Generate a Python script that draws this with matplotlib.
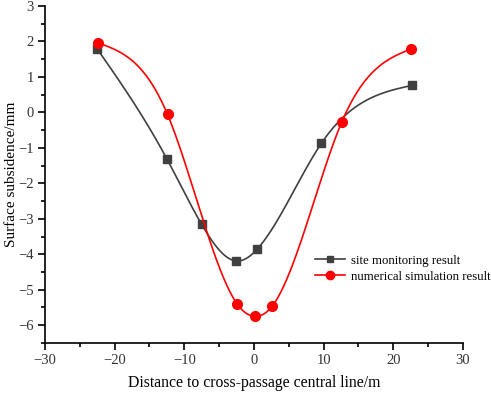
import numpy as np
import matplotlib
matplotlib.use("Agg")
from matplotlib import pyplot as plt
from matplotlib.ticker import MultipleLocator

plt.rcParams['font.family'] = ['Liberation Serif', 'DejaVu Serif']
plt.rcParams['axes.unicode_minus'] = True

# data
site_x = [-22.5, -12.5, -7.5, -2.5, 0.5, 9.7, 22.7]
site_y = [1.79, -1.31, -3.16, -4.19, -3.85, -0.87, 0.76]
sim_x = [-22.4, -12.4, -2.45, 0.1, 2.6, 12.6, 22.6]
sim_y = [1.96, -0.06, -5.39, -5.75, -5.47, -0.28, 1.79]


def spline(x, y, n=300):
    # natural cubic spline used only as the connecting line style
    x = np.asarray(x, float)
    y = np.asarray(y, float)
    k = len(x)
    h = np.diff(x)
    A = np.zeros((k, k))
    b = np.zeros(k)
    A[0, 0] = A[-1, -1] = 1
    for i in range(1, k - 1):
        A[i, i - 1] = h[i - 1]
        A[i, i] = 2 * (h[i - 1] + h[i])
        A[i, i + 1] = h[i]
        b[i] = 3 * ((y[i + 1] - y[i]) / h[i] - (y[i] - y[i - 1]) / h[i - 1])
    c = np.linalg.solve(A, b)
    xs = np.linspace(x[0], x[-1], n)
    idx = np.clip(np.searchsorted(x, xs) - 1, 0, k - 2)
    dx = xs - x[idx]
    bb = (y[idx + 1] - y[idx]) / h[idx] - h[idx] * (2 * c[idx] + c[idx + 1]) / 3
    d = (c[idx + 1] - c[idx]) / (3 * h[idx])
    ys = y[idx] + bb * dx + c[idx] * dx ** 2 + d * dx ** 3
    return xs, ys


fig = plt.figure(figsize=(4.91, 3.96), dpi=100)
ax = fig.add_axes([0.0916, 0.134, 0.851, 0.851])

gray = "#404040"
red = "#ff0000"

sx, sy = spline(site_x, site_y)
ax.plot(sx, sy, color=gray, lw=1.2)
ax.plot(site_x, site_y, "s", color=gray, ms=6)
rx, ry = spline(sim_x, sim_y)
ax.plot(rx, ry, color=red, lw=1.2)
ax.plot(sim_x, sim_y, "o", color=red, ms=7)

# legend proxies
ax.plot([], [], "s-", color=gray, ms=5, lw=1.2, label="site monitoring result")
ax.plot([], [], "o-", color=red, ms=6, lw=1.2, label="numerical simulation result")

ax.set_xlim(-30, 30)
ax.set_ylim(-6.5, 3)
ax.xaxis.set_major_locator(MultipleLocator(10))
ax.xaxis.set_minor_locator(MultipleLocator(5))
ax.yaxis.set_major_locator(MultipleLocator(1))
ax.yaxis.set_minor_locator(MultipleLocator(0.5))
ax.spines["top"].set_visible(False)
ax.spines["right"].set_visible(False)
ax.tick_params(which="both", direction="out", width=1.2, labelsize=10.5,
               labelcolor="#333333", pad=3)
ax.tick_params(which="major", length=5)
ax.tick_params(which="minor", length=3)
for s in ("left", "bottom"):
    ax.spines[s].set_linewidth(1.2)

ax.set_xlabel("Distance to cross-passage central line/m", fontsize=11.3, labelpad=6)
ax.set_ylabel("Surface subsidence/mm", fontsize=11)
ax.yaxis.set_label_coords(-0.064, 0.5)

handles, labels = ax.get_legend_handles_labels()
fig.legend(handles[-2:], labels[-2:], loc="center left",
           bbox_to_anchor=(0.641, 0.321), frameon=False, fontsize=9.2,
           handlelength=2.35, handletextpad=0.45, labelspacing=0.3,
           borderpad=0, borderaxespad=0)

fig.savefig("out.png", dpi=100)
